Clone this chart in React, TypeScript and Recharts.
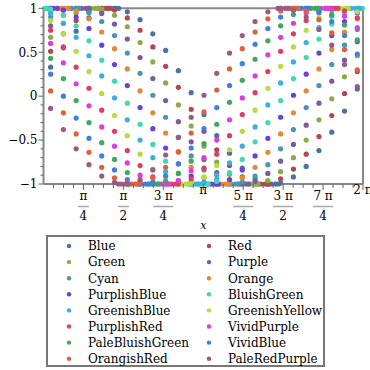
import React from 'react';
import { ScatterChart, Scatter, XAxis, YAxis, ReferenceLine } from 'recharts';

const FONT = '"DejaVu Serif", serif';

// sample columns (x, radians)
const X_COLUMNS = [0.140, 0.391, 0.642, 0.894, 1.145, 1.396, 1.648, 1.899, 2.150, 2.402, 2.653, 2.904, 3.156, 3.407, 3.658, 3.909, 4.161, 4.412, 4.663, 4.915, 5.166, 5.417, 5.669, 5.920, 6.171];

const SERIES_NAMES = ['Blue', 'Red', 'Green', 'Purple', 'Cyan', 'Orange', 'PurplishBlue', 'BluishGreen', 'GreenishBlue', 'GreenishYellow', 'PurplishRed', 'VividPurple', 'PaleBluishGreen', 'VividBlue', 'OrangishRed', 'PaleRedPurple'];

const SERIES_COLORS = ['#4c71a8', '#b5454f', '#8bab4a', '#7c5a9c', '#4896b4', '#e2893c', '#6b3fdf', '#3ddcb0', '#3daee0', '#b5dd3d', '#df3d62', '#de3ddc', '#3ea85e', '#3e7fe0', '#e0603e', '#9c5a80'];

const yBlue = [0.33, 0.55, 0.74, 0.89, 0.97, 1.00, 0.96, 0.87, 0.71, 0.52, 0.29, 0.04, -0.21, -0.45, -0.65, -0.82, -0.94, -0.99, -0.99, -0.92, -0.80, -0.62, -0.41, -0.17, 0.08];
const yRed = [0.51, 0.71, 0.86, 0.96, 1.00, 0.98, 0.89, 0.75, 0.56, 0.34, 0.10, -0.15, -0.40, -0.61, -0.79, -0.92, -0.99, -1.00, -0.94, -0.83, -0.66, -0.46, -0.22, 0.03, 0.28];
const yGreen = [0.67, 0.83, 0.94, 1.00, 0.99, 0.92, 0.79, 0.61, 0.39, 0.15, -0.10, -0.34, -0.57, -0.75, -0.89, -0.98, -1.00, -0.96, -0.86, -0.70, -0.50, -0.27, -0.03, 0.22, 0.46];
const yPurple = [0.80, 0.92, 0.99, 0.99, 0.94, 0.82, 0.65, 0.44, 0.20, -0.05, -0.29, -0.52, -0.72, -0.87, -0.96, -1.00, -0.97, -0.88, -0.74, -0.55, -0.33, -0.08, 0.17, 0.41, 0.62];
const yCyan = [0.90, 0.98, 1.00, 0.95, 0.85, 0.69, 0.49, 0.26, 0.01, -0.24, -0.47, -0.68, -0.84, -0.95, -1.00, -0.98, -0.91, -0.78, -0.60, -0.38, -0.13, 0.12, 0.36, 0.58, 0.76];
const yOrange = [0.97, 1.00, 0.97, 0.88, 0.73, 0.54, 0.31, 0.06, -0.19, -0.42, -0.64, -0.81, -0.93, -0.99, -0.99, -0.93, -0.81, -0.64, -0.43, -0.19, 0.06, 0.31, 0.53, 0.73, 0.88];
const yPurplishBlue = [1.00, 0.98, 0.90, 0.77, 0.58, 0.36, 0.12, -0.13, -0.37, -0.59, -0.77, -0.91, -0.98, -1.00, -0.95, -0.84, -0.68, -0.48, -0.24, 0.01, 0.25, 0.49, 0.69, 0.85, 0.95];
const yBluishGreen = [0.99, 0.92, 0.80, 0.63, 0.41, 0.17, -0.08, -0.32, -0.55, -0.74, -0.88, -0.97, -1.00, -0.97, -0.87, -0.72, -0.52, -0.30, -0.05, 0.20, 0.44, 0.65, 0.82, 0.93, 0.99];
const yGreenishBlue = [0.94, 0.83, 0.67, 0.46, 0.23, -0.02, -0.27, -0.50, -0.70, -0.86, -0.96, -1.00, -0.98, -0.90, -0.76, -0.57, -0.35, -0.10, 0.15, 0.39, 0.61, 0.78, 0.91, 0.99, 1.00];
const yGreenishYellow = [0.86, 0.71, 0.51, 0.28, 0.03, -0.22, -0.45, -0.66, -0.83, -0.94, -1.00, -0.99, -0.92, -0.79, -0.61, -0.40, -0.16, 0.09, 0.34, 0.56, 0.75, 0.89, 0.98, 1.00, 0.96];
const yPurplishRed = [0.75, 0.56, 0.33, 0.09, -0.16, -0.40, -0.62, -0.79, -0.92, -0.99, -0.99, -0.94, -0.82, -0.66, -0.45, -0.21, 0.04, 0.28, 0.51, 0.71, 0.86, 0.96, 1.00, 0.97, 0.89];
const yVividPurple = [0.60, 0.38, 0.14, -0.11, -0.35, -0.57, -0.76, -0.90, -0.98, -1.00, -0.96, -0.85, -0.70, -0.50, -0.27, -0.02, 0.23, 0.47, 0.67, 0.83, 0.95, 1.00, 0.99, 0.91, 0.78];
const yPaleBluishGreen = [0.43, 0.20, -0.05, -0.30, -0.53, -0.72, -0.87, -0.97, -1.00, -0.97, -0.88, -0.74, -0.54, -0.32, -0.07, 0.18, 0.42, 0.63, 0.80, 0.93, 0.99, 0.99, 0.93, 0.81, 0.64];
const yVividBlue = [0.25, 0.00, -0.25, -0.48, -0.68, -0.84, -0.95, -1.00, -0.98, -0.91, -0.77, -0.59, -0.37, -0.13, 0.12, 0.37, 0.59, 0.77, 0.90, 0.98, 1.00, 0.95, 0.85, 0.69, 0.48];
const yOrangishRed = [0.06, -0.19, -0.43, -0.64, -0.81, -0.93, -0.99, -0.99, -0.93, -0.81, -0.63, -0.42, -0.18, 0.07, 0.31, 0.54, 0.73, 0.88, 0.97, 1.00, 0.97, 0.87, 0.72, 0.53, 0.30];
const yPaleRedPurple = [-0.14, -0.38, -0.60, -0.78, -0.91, -0.98, -1.00, -0.95, -0.84, -0.67, -0.47, -0.24, 0.01, 0.26, 0.49, 0.69, 0.85, 0.96, 1.00, 0.98, 0.90, 0.76, 0.58, 0.36, 0.11];

const Y_VALUES = [yBlue, yRed, yGreen, yPurple, yCyan, yOrange, yPurplishBlue, yBluishGreen, yGreenishBlue, yGreenishYellow, yPurplishRed, yVividPurple, yPaleBluishGreen, yVividBlue, yOrangishRed, yPaleRedPurple];

// extra (adaptive) samples clustered at each series' maximum (y = 1) and minimum (y = -1)
const PEAK_BAND_X = [
  [1.27, 1.33, 1.42, 1.48],
  [1.08, 1.14, 1.22, 1.28],
  [0.88, 0.94, 1.02, 1.08],
  [0.69, 0.75, 0.83, 0.89],
  [0.49, 0.55, 0.63, 0.69],
  [0.29, 0.35, 0.43, 0.49],
  [0.06, 0.12, 0.20, 0.27],
  [0.02, 0.07, 6.21, 6.27],
  [5.99, 6.05, 6.13, 6.22],
  [5.79, 5.85, 5.93, 5.99],
  [5.59, 5.65, 5.73, 5.79],
  [5.40, 5.46, 5.54, 5.60],
  [5.20, 5.26, 5.34, 5.40],
  [5.01, 5.07, 5.15, 5.21],
  [4.81, 4.87, 4.95, 5.01],
  [4.61, 4.67, 4.75, 4.81],
];
const TROUGH_BAND_X = [
  [4.42, 4.48, 4.56, 4.62],
  [4.22, 4.28, 4.36, 4.42],
  [4.02, 4.08, 4.16, 4.22],
  [3.83, 3.89, 3.97, 4.03],
  [3.63, 3.69, 3.77, 3.83],
  [3.43, 3.49, 3.57, 3.63],
  [3.24, 3.30, 3.38, 3.44],
  [3.04, 3.10, 3.18, 3.24],
  [2.85, 2.91, 2.99, 3.05],
  [2.65, 2.71, 2.79, 2.85],
  [2.45, 2.51, 2.59, 2.65],
  [2.26, 2.32, 2.40, 2.46],
  [2.06, 2.12, 2.20, 2.26],
  [1.86, 1.92, 2.00, 2.06],
  [1.67, 1.73, 1.81, 1.87],
  [1.47, 1.53, 1.61, 1.67],
];
const PEAK_Y = 1;
const TROUGH_Y = -1;

const X_TICK_LABELS = [
  { num: 'π', den: '4' },
  { num: 'π', den: '2' },
  { num: '3 π', den: '4' },
  { num: 'π', den: '' },
  { num: '5 π', den: '4' },
  { num: '3 π', den: '2' },
  { num: '7 π', den: '4' },
  { num: '2 π', den: '' },
];
const X_TICKS = Array.from({ length: 32 }, (_, i) => ((i + 1) * Math.PI) / 16);
const Y_TICKS = [-1, -0.9, -0.8, -0.7, -0.6, -0.5, -0.4, -0.3, -0.2, -0.1, 0, 0.1, 0.2, 0.3, 0.4, 0.5, 0.6, 0.7, 0.8, 0.9, 1];
const Y_MAJOR_TICKS = [-1, -0.5, 0, 0.5, 1];
const Y_MAJOR_LABELS = ['−1', '−0.5', '0', '0.5', '1'];

const seriesData = Y_VALUES.map((ys, k) => [
  ...X_COLUMNS.map((x, j) => ({ x, y: ys[j] })),
  ...PEAK_BAND_X[k].map((x) => ({ x, y: PEAK_Y })),
  ...TROUGH_BAND_X[k].map((x) => ({ x, y: TROUGH_Y })),
]);

const TICK_COLOR = '#666';
const AXIS_COLOR = '#888';

const XTick = (props: any) => {
  const { x, y, payload } = props;
  const idx = Math.round(payload.value / (Math.PI / 16));
  const major = idx % 4 === 0;
  const lab = major ? X_TICK_LABELS[idx / 4 - 1] : null;
  const bar = lab && lab.num.length > 1 ? 20 : 11;
  return (
    <g>
      <line x1={x} x2={x} y1={y} y2={y + (major ? 6 : 4)} stroke={TICK_COLOR} strokeWidth={1} />
      {lab && lab.den ? (
        <g fontFamily={FONT} fontSize={12} fill="#000" textAnchor="middle">
          <text x={x} y={y + 16}>{lab.num}</text>
          <line x1={x - bar / 2} x2={x + bar / 2} y1={y + 22.5} y2={y + 22.5} stroke="#aaa" strokeWidth={1.5} />
          <text x={x} y={y + 36}>{lab.den}</text>
        </g>
      ) : null}
      {lab && !lab.den ? (
        <text x={x} y={y + 10} fontFamily={FONT} fontSize={12} fill="#000" textAnchor="middle">{lab.num}</text>
      ) : null}
    </g>
  );
};

const YTick = (props: any) => {
  const { x, y, payload } = props;
  const mi = Y_MAJOR_TICKS.findIndex((t) => Math.abs(t - payload.value) < 1e-6);
  const major = mi >= 0;
  return (
    <g>
      <line x1={x} x2={x - (major ? 5 : 3)} y1={y} y2={y} stroke={TICK_COLOR} strokeWidth={1} />
      {major ? (
        <text x={x - 6} y={y + 4.3} fontFamily={FONT} fontSize={12} fill="#000" textAnchor="end">{Y_MAJOR_LABELS[mi]}</text>
      ) : null}
    </g>
  );
};

const makeDot = (color: string) => (p: any) => <circle cx={p.cx} cy={p.cy} r={2.6} fill={color} />;

const LEGEND_ROW0 = 246;
const LEGEND_ROW_STEP = 16.1;

export default function App() {
  return (
    <div style={{ position: 'absolute', left: 0, top: 0, width: 370, height: 370, background: '#fff' }}>
      <ScatterChart width={370} height={235} margin={{ top: 8.3, right: 7, bottom: 0, left: 0.5 }}>
        <XAxis
          type="number"
          dataKey="x"
          domain={[0, 2 * Math.PI]}
          ticks={X_TICKS}
          interval={0}
          tickSize={0}
          tickMargin={0}
          tickLine={false}
          tick={<XTick />}
          height={51}
          axisLine={{ stroke: AXIS_COLOR, strokeWidth: 2 }}
          label={{ value: 'x', position: 'insideBottom', offset: 6, fontFamily: FONT, fontSize: 11, fontStyle: 'italic', fill: '#000' }}
        />
        <YAxis
          type="number"
          dataKey="y"
          domain={[-1, 1]}
          ticks={Y_TICKS}
          interval={0}
          tickSize={0}
          tickMargin={0}
          tickLine={false}
          tick={<YTick />}
          width={43}
          axisLine={{ stroke: AXIS_COLOR, strokeWidth: 2 }}
        />
        <ReferenceLine y={1} stroke={AXIS_COLOR} strokeWidth={2} ifOverflow="visible" />
        <ReferenceLine x={2 * Math.PI} stroke={AXIS_COLOR} strokeWidth={2} ifOverflow="visible" />
        {seriesData.map((d, k) => (
          <Scatter
            key={SERIES_NAMES[k]}
            name={SERIES_NAMES[k]}
            data={d}
            fill={SERIES_COLORS[k]}
            shape={makeDot(SERIES_COLORS[k])}
            isAnimationActive={false}
          />
        ))}
      </ScatterChart>
      <svg width={370} height={370} style={{ position: 'absolute', left: 0, top: 0, pointerEvents: 'none' }}>
        <rect x={47} y={236} width={277} height={130} fill="none" stroke="#777" strokeWidth={2} />
        {SERIES_NAMES.map((name, k) => {
          const col = k % 2;
          const row = Math.floor(k / 2);
          const cy = LEGEND_ROW0 + row * LEGEND_ROW_STEP;
          const dx = col === 0 ? 69 : 209;
          return (
            <g key={name}>
              <circle cx={dx} cy={cy} r={2.2} fill={SERIES_COLORS[k]} />
              <text x={dx + 19} y={cy + 4.3} fontFamily={FONT} fontSize={12} fill="#000">{name}</text>
            </g>
          );
        })}
      </svg>
    </div>
  );
}
